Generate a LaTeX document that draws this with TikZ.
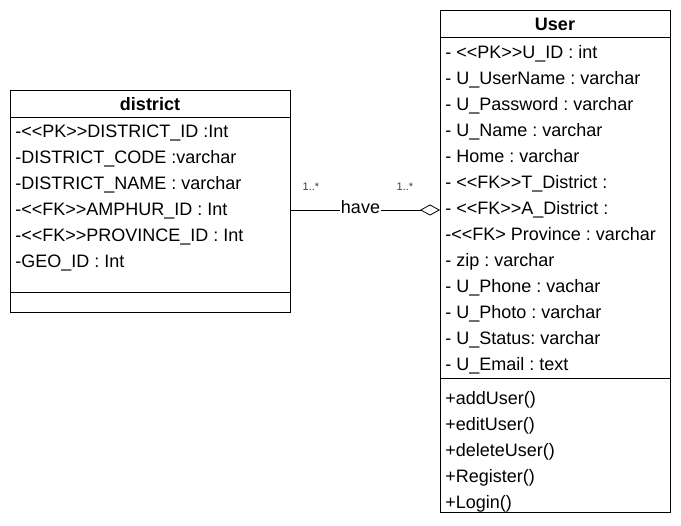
\documentclass[tikz,border=0pt]{standalone}
\usepackage{fontspec}
\setmainfont{Liberation Sans}
\usetikzlibrary{arrows.meta}
\frenchspacing
\begin{document}
\begin{tikzpicture}[x=1pt,y=-1pt,line width=.8pt,
		attr/.style={anchor=base west,inner sep=0pt,font=\fontsize{18}{20}\selectfont},
		title/.style={anchor=base,inner sep=0pt,font=\fontsize{18}{20}\selectfont\bfseries},
		mult/.style={inner sep=0pt,text=black!75,font=\fontsize{11}{12}\selectfont}]
		\useasboundingbox (0,0) rectangle (681,526);
		
		% district
		\draw (10,90) rectangle (290,312);
		\draw (10,117) -- (290,117); \draw (10,292) -- (290,292);
		\node[title] (dtitle) at (150,111) {district};
		\foreach \t [count=\i] in {-<{}<PK>{}>DISTRICT\_ID :Int, -DISTRICT\_CODE :varchar,
			-DISTRICT\_NAME : varchar, -<{}<FK>{}>AMPHUR\_ID : Int,
			-<{}<FK>{}>PROVINCE\_ID : Int, -GEO\_ID : Int}
		\node[attr] (d\i) at (15,112+26*\i) {\t};
		
		% User
		\draw (440,10) rectangle (670,512);
		\draw (440,37) -- (670,37); \draw (440,378) -- (670,378);
		\node[title] (utitle) at (555,31) {User};
		\foreach \t [count=\i] in {- <{}<PK>{}>U\_ID : int, - U\_UserName : varchar,
			- U\_Password : varchar, - U\_Name : varchar, - Home : varchar,
			- <{}<FK>{}>T\_District :, - <{}<FK>{}>A\_District :, -<{}<FK> Province : varchar,
			- zip : varchar, - U\_Phone : vachar, - U\_Photo : varchar,
			- U\_Status: varchar, - U\_Email : text}
		\node[attr] (u\i) at (445,33+26*\i) {\t};
		\foreach \t [count=\i] in {+addUser(), +editUser(), +deleteUser(),
			+Register(), +Login()}
		\node[attr] (m\i) at (445,379+26*\i) {\t};
		
		% have
		\coordinate (dR) at (290,210); \coordinate (uL) at (440,210);
		\draw[-{Diamond[open,length=20pt,width=11pt]}] (dR) -- node[pos=.47,yshift=3pt,fill=white,inner sep=1pt,font=\fontsize{18}{20}\selectfont] (have) {have} (uL);
		\node[mult] (n1) at (311,187) {1..*};
		\node[mult] (n2) at (405,187) {1..*};
\end{tikzpicture}
\end{document}
